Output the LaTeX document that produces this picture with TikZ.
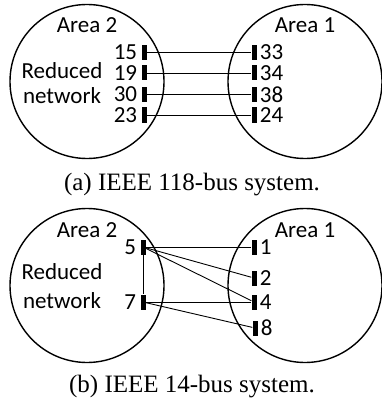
\documentclass[tikz,border=0pt]{standalone}
\usepackage{fontspec}
\setmainfont{Liberation Serif}
\setsansfont{Carlito}
\tikzset{
  zone/.style={draw,circle,line width=1.4pt,minimum size=154pt,inner sep=0pt},
  busbar/.style={fill=black,minimum width=5pt,minimum height=15pt,inner sep=0pt},
  tie/.style={line width=0.9pt},
  caption/.style={font=\rmfamily\fontsize{25}{29}\selectfont}
}
\begin{document}
\begin{tikzpicture}[x=1pt,y=-1pt,font=\sffamily\fontsize{23}{27}\selectfont]
  \useasboundingbox (0,0) rectangle (381,409);

  % (a) 118-bus system
  \node[zone] (areaA2) at (87,81.5) {};
  \node[zone] (areaA1) at (305,81.5) {};
  \node (nameA2) at (87,25) {Area 2};
  \node (nameA1) at (305,25) {Area 1};
  \node (redA) at (62,71) {Reduced};
  \node (netA) at (62,96) {network};

  \node[busbar] (bus15) at (144,52.5) {};
  \node[busbar] (bus19) at (144,73) {};
  \node[busbar] (bus30) at (144,94.5) {};
  \node[busbar] (bus23) at (144,115) {};
  \node[busbar] (bus33) at (254,52.5) {};
  \node[busbar] (bus34) at (254,73) {};
  \node[busbar] (bus38) at (254,94.5) {};
  \node[busbar] (bus24) at (254,115) {};

  \foreach \b in {15,19,30,23}
    \node[anchor=east,inner sep=0pt] (lab\b) at ([xshift=-4pt]bus\b.west) {\b};
  \foreach \b in {33,34,38,24}
    \node[anchor=west,inner sep=0pt] (lab\b) at ([xshift=3pt]bus\b.east) {\b};

  \foreach \p/\q in {15/33,19/34,30/38,23/24}
    \draw[tie] (bus\p) -- (bus\q);

  \node[caption] (capA) at (192,185) {(a) IEEE 118-bus system.};

  % (b) 14-bus system
  \node[zone] (areaB2) at (87,285.5) {};
  \node[zone] (areaB1) at (305,285.5) {};
  \node (nameB2) at (87,230) {Area 2};
  \node (nameB1) at (305,230) {Area 1};
  \node (redB) at (62,272) {Reduced};
  \node (netB) at (62,301) {network};

  \node[busbar] (bus5) at (143,247) {};
  \node[busbar] (bus7) at (143,302) {};
  \node[busbar] (bus1) at (254,247) {};
  \node[busbar] (bus2) at (254,278) {};
  \node[busbar] (bus4) at (254,302) {};
  \node[busbar] (bus8) at (255,328) {};

  \foreach \b in {5,7}
    \node[anchor=east,inner sep=0pt] (lab\b) at ([xshift=-4pt]bus\b.west) {\b};
  \foreach \b in {1,2,4,8}
    \node[anchor=west,inner sep=0pt] (lab\b) at ([xshift=3pt]bus\b.east) {\b};

  \foreach \p/\q in {5/1,5/2,5/4,5/7,7/4,7/8}
    \draw[tie] (bus\p) -- (bus\q);

  \node[caption] (capB) at (192,387) {(b) IEEE 14-bus system.};
\end{tikzpicture}
\end{document}
